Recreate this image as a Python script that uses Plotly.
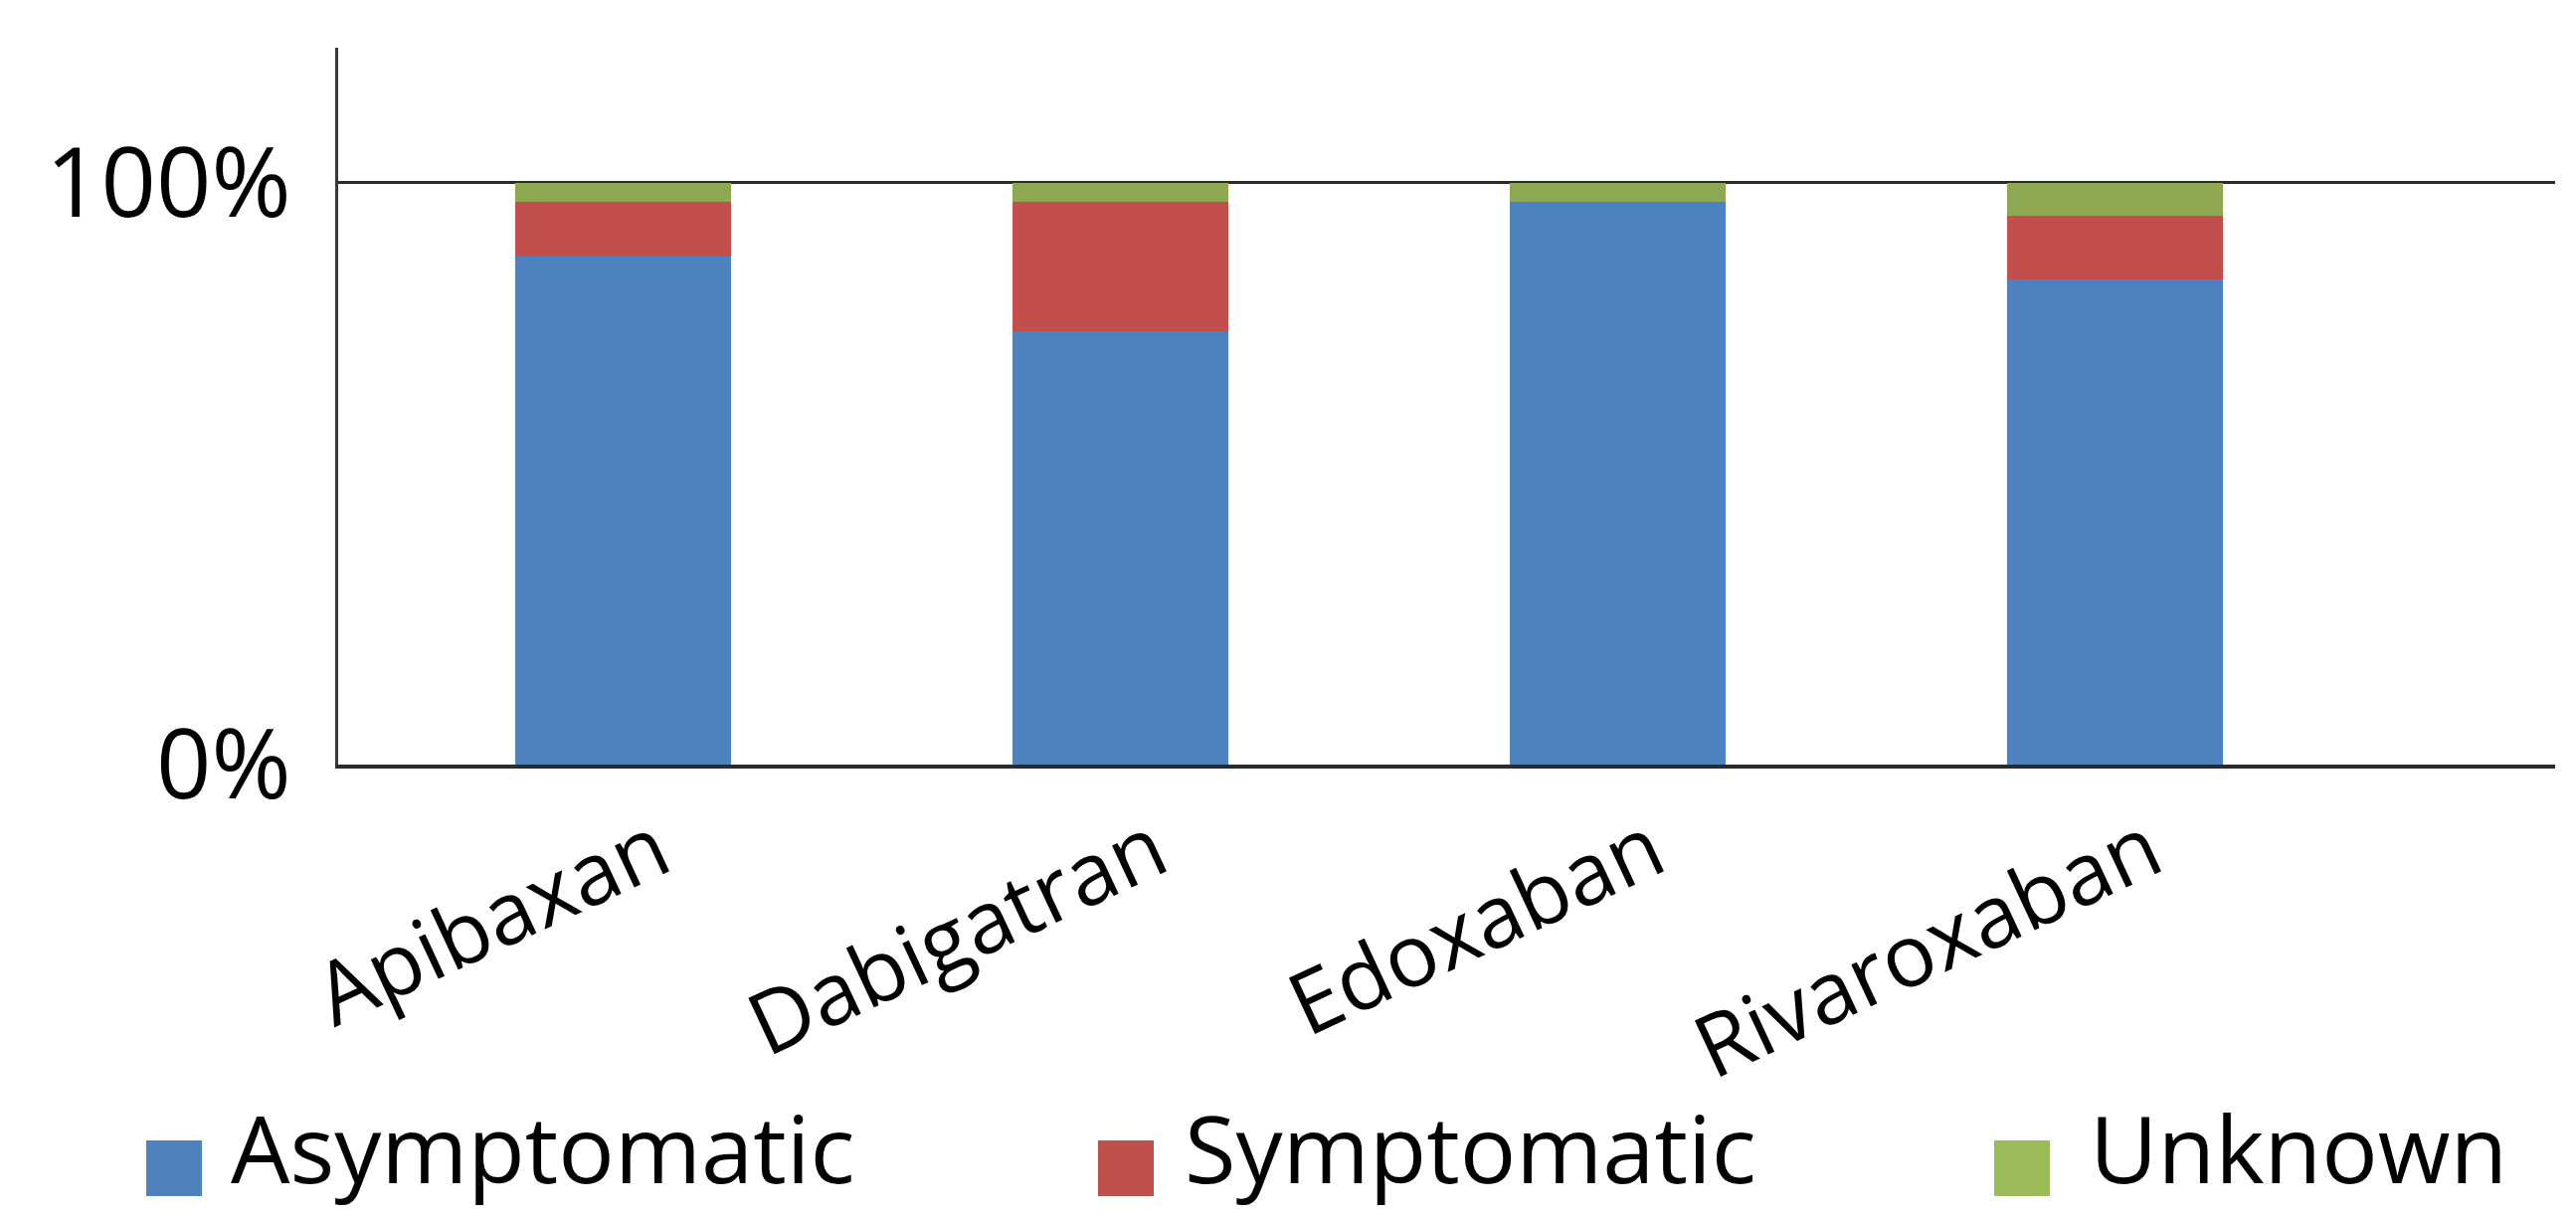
import plotly.graph_objects as go

categories = ["Apibaxan", "Dabigatran", "Edoxaban", "Rivaroxaban"]
series_names = ["Asymptomatic", "Symptomatic", "Unknown"]
asymptomatic = [87.3, 74.5, 96.7, 83.4]
symptomatic = [9.4, 22.2, 0.0, 11.0]
unknown = [3.3, 3.3, 3.3, 5.6]
y_tick_vals = [0, 100]
y_tick_text = ["0%", "100%"]

series_values = [asymptomatic, symptomatic, unknown]
bar_colors = ["#4D81BF", "#C24F4C", "#8EA851"]
legend_colors = ["#4F81BD", "#C0504D", "#9BBB59"]

W, H = 2590, 1221
plot_left, plot_right, plot_top, plot_bottom = 340, 2569, 48, 769
L, T = plot_left, plot_top
R, B = W - plot_right, H - plot_bottom
pw, ph = W - L - R, H - T - B

FONT = "Open Sans"

fig = go.Figure()
for name, vals, col in zip(series_names, series_values, bar_colors):
    fig.add_trace(go.Bar(x=categories, y=vals, name=name, marker_color=col,
                         marker_line_width=0, width=0.434, showlegend=False))

fig.update_layout(
    width=W, height=H,
    margin=dict(l=L, r=R, t=T, b=B, pad=0),
    barmode="stack",
    plot_bgcolor="white", paper_bgcolor="white",
    font=dict(family=FONT, color="black"),
)
fig.update_xaxes(range=[-0.572, 3.886], showline=True, linecolor="#2b2b2b", linewidth=4,
                 ticks="", tickangle=-25, tickfont=dict(size=87, family=FONT),
                 ticklabelstandoff=0, ticklabelshift=35, showgrid=False)
fig.update_yaxes(range=[0, 123.2], tickvals=y_tick_vals, ticktext=y_tick_text,
                 showline=True, linecolor="#3a3a3a", linewidth=3,
                 showgrid=True, gridcolor="#2b2b2b", gridwidth=3,
                 zeroline=False, ticks="", tickfont=dict(size=97, family=FONT),
                 ticklabelstandoff=25)

def px_x(px):
    return (px - L) / pw

def px_y(py):
    return (H - B - py) / ph

sq_left = [147, 1104, 2005]
txt_left = [231, 1190, 2100]
sq_size = 56
leg_top = 1147
for name, col, sx, tx in zip(series_names, legend_colors, sq_left, txt_left):
    fig.add_shape(type="rect", xref="paper", yref="paper",
                  x0=px_x(sx), x1=px_x(sx + sq_size),
                  y0=px_y(leg_top + sq_size), y1=px_y(leg_top),
                  fillcolor=col, line_width=0)
    fig.add_annotation(text=name, xref="paper", yref="paper",
                       x=px_x(tx), y=px_y(1219), borderpad=0,
                       xanchor="left", yanchor="bottom", showarrow=False,
                       font=dict(size=94, family=FONT, color="black"))

fig.write_html("out.html", config={"displayModeBar": False},
               post_script="document.body.style.margin='0px';document.body.style.overflow='hidden';")
